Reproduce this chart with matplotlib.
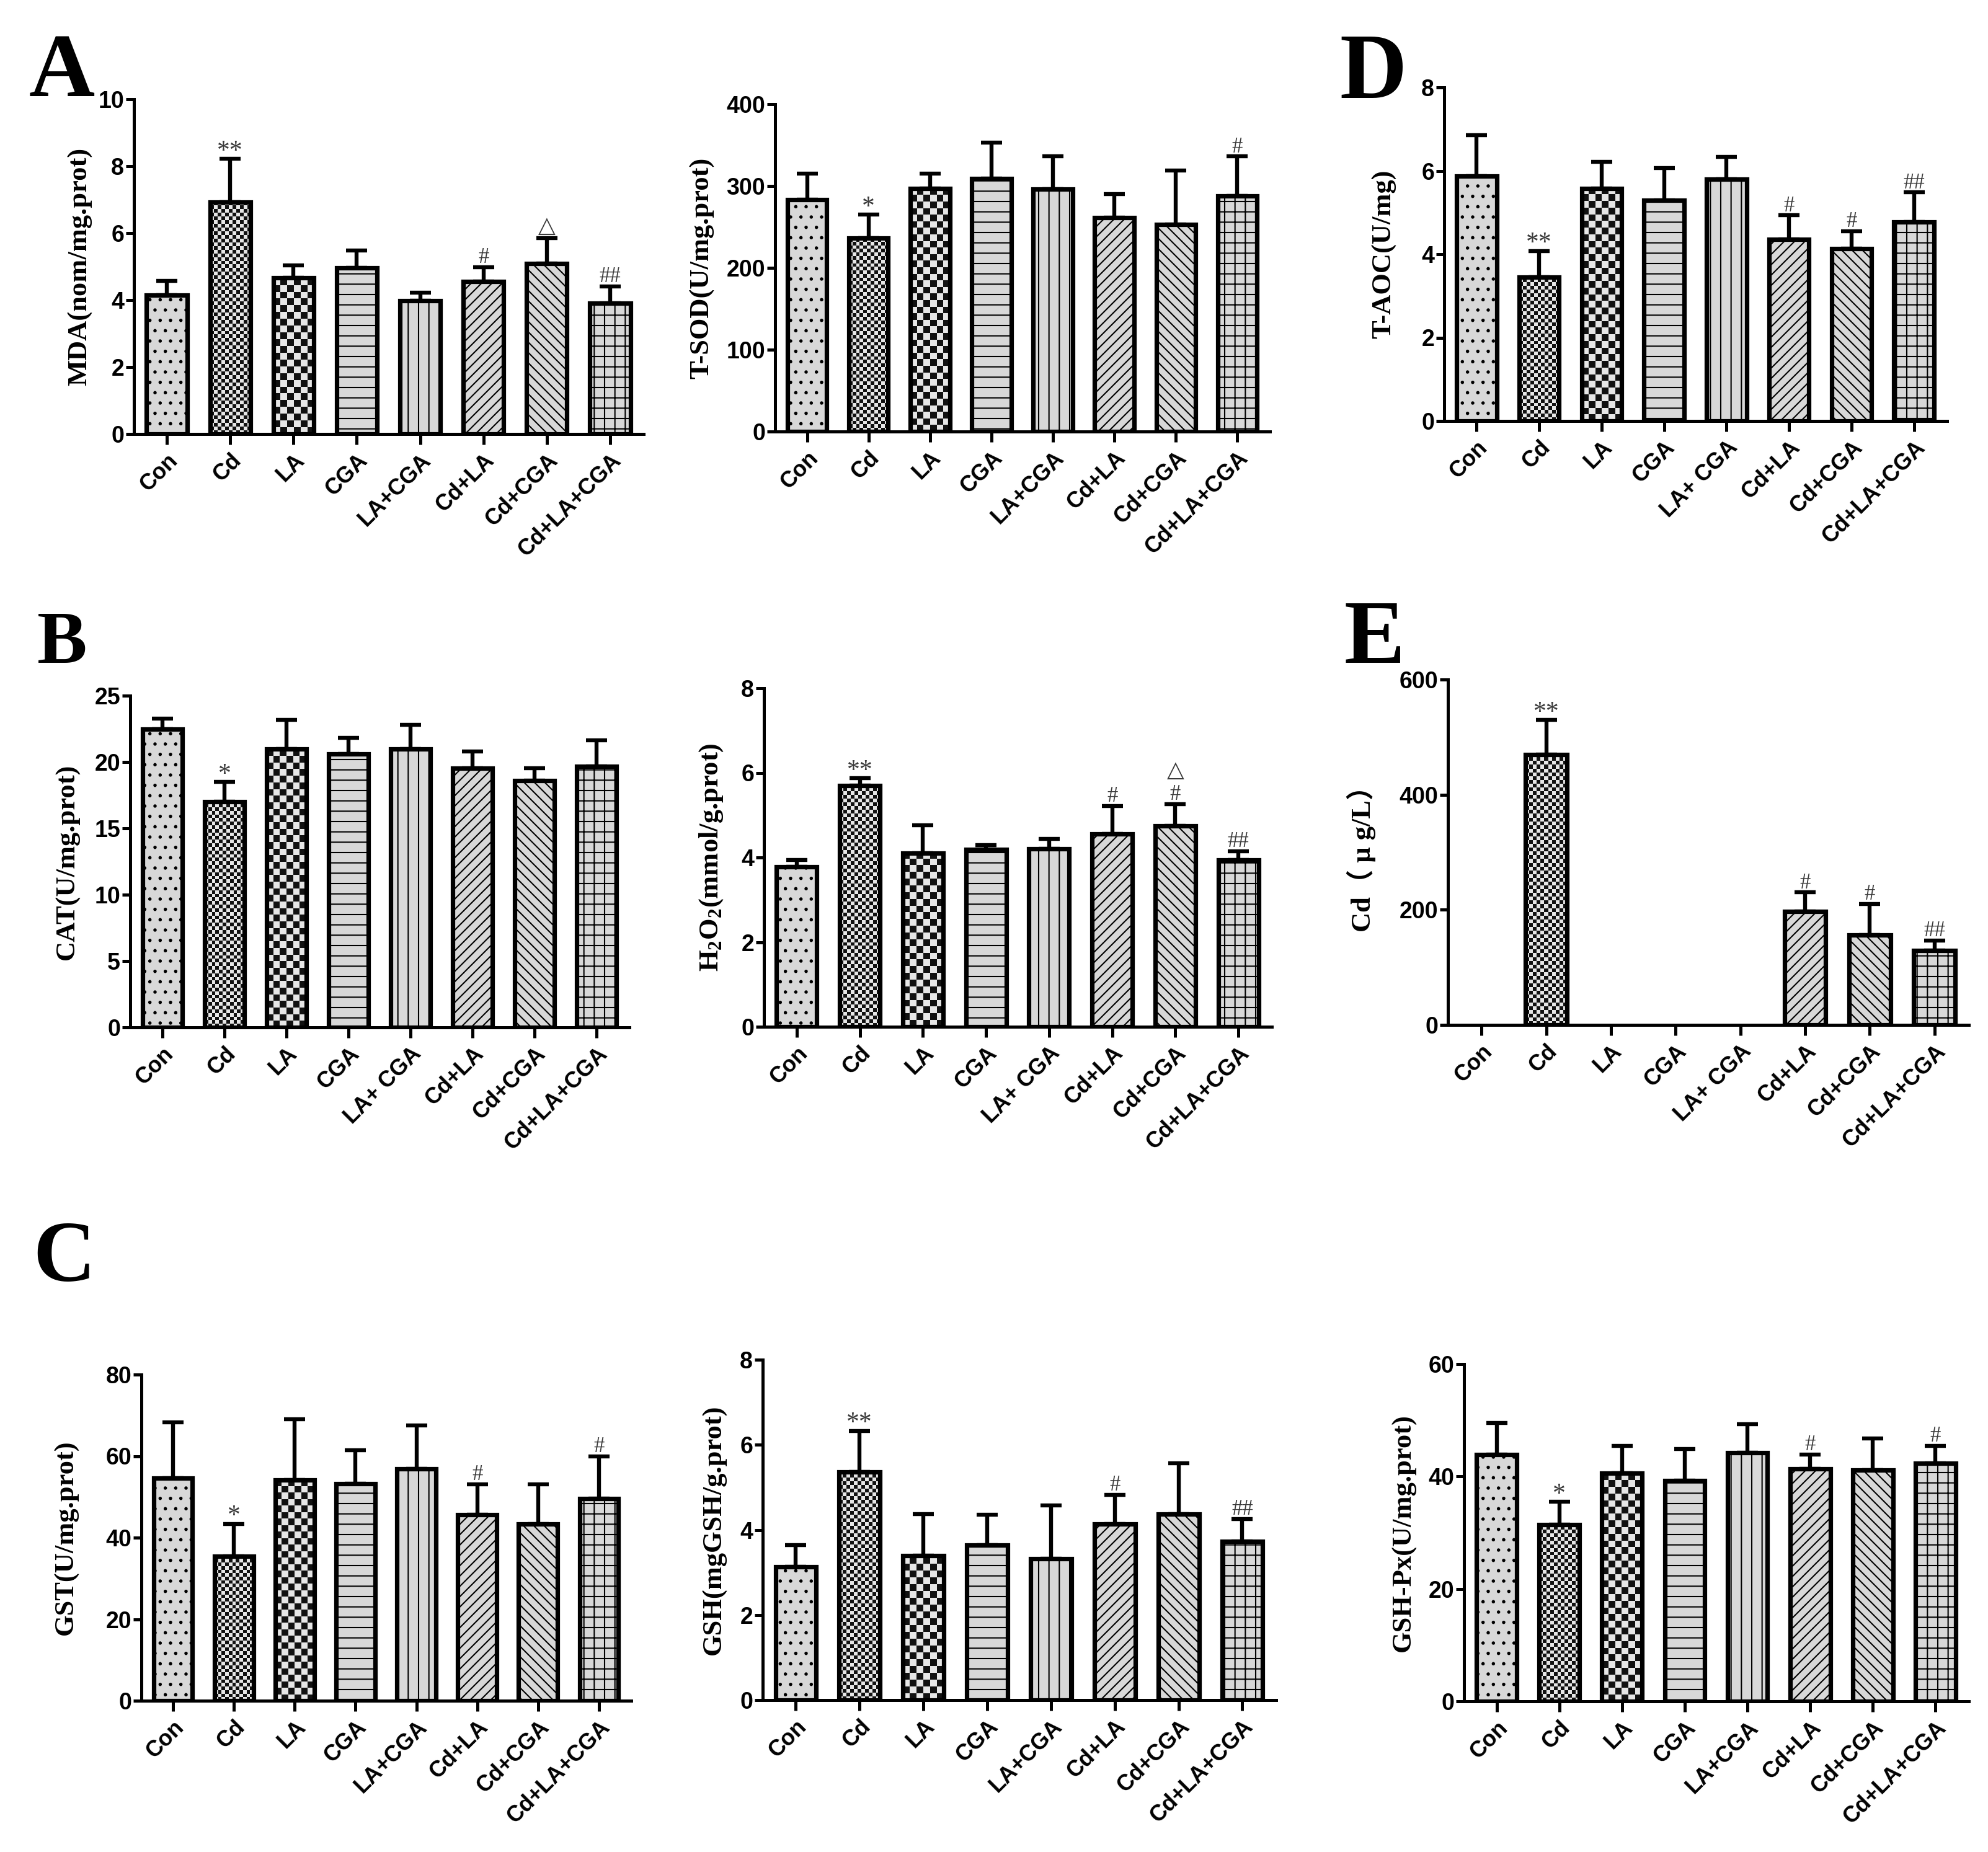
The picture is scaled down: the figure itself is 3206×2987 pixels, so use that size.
import numpy as np
import matplotlib
matplotlib.use("Agg")
import matplotlib.pyplot as plt
from matplotlib.colors import ListedColormap

plt.rcParams['font.family'] = ['Liberation Sans', 'DejaVu Sans']
plt.rcParams['font.weight'] = 'bold'
plt.rcParams['hatch.linewidth'] = 1.5
plt.rcParams['mathtext.fontset'] = 'custom'
plt.rcParams['mathtext.rm'] = 'Liberation Serif:bold'
plt.rcParams['mathtext.bf'] = 'Liberation Serif:bold'
plt.rcParams['mathtext.it'] = 'Liberation Serif:bold'

# group names (two spellings are used in the original panels)
groups = ['Con', 'Cd', 'LA', 'CGA', 'LA+CGA', 'Cd+LA', 'Cd+CGA', 'Cd+LA+CGA']
groups_sp = ['Con', 'Cd', 'LA', 'CGA', 'LA+ CGA', 'Cd+LA', 'Cd+CGA', 'Cd+LA+CGA']

# A - MDA
mda_mean = [4.15, 6.92, 4.67, 4.97, 3.98, 4.56, 5.10, 3.91]
mda_sd = [0.42, 1.30, 0.37, 0.52, 0.25, 0.43, 0.76, 0.50]
mda_sig = ['', '**', '', '', '', '#', '△', '##']

# A - T-SOD
sod_mean = [283, 236, 297, 309, 296, 261, 253, 288]
sod_sd = [32, 29, 18, 44, 40, 29, 66, 48]
sod_sig = ['', '*', '', '', '', '', '', '#']

# D - T-AOC
taoc_mean = [5.87, 3.45, 5.57, 5.29, 5.80, 4.36, 4.14, 4.78]
taoc_sd = [0.98, 0.63, 0.64, 0.77, 0.54, 0.57, 0.41, 0.70]
taoc_sig = ['', '**', '', '', '', '#', '#', '##']

# B - CAT
cat_mean = [22.5, 17.0, 21.0, 20.6, 21.0, 19.55, 18.6, 19.65]
cat_sd = [0.75, 1.5, 2.2, 1.2, 1.8, 1.25, 0.95, 2.0]
cat_sig = ['', '*', '', '', '', '', '', '']

# B - H2O2
h2o2_mean = [3.78, 5.70, 4.10, 4.19, 4.21, 4.55, 4.75, 3.94]
h2o2_sd = [0.16, 0.17, 0.66, 0.10, 0.23, 0.66, 0.51, 0.21]
h2o2_sig = ['', '**', '', '', '', '#', '△\n#', '##']

# E - Cd content
cd_mean = [0, 470, 0, 0, 0, 197, 156, 129]
cd_sd = [0, 60, 0, 0, 0, 33, 54, 18]
cd_sig = ['', '**', '', '', '', '#', '#', '##']

# C - GST
gst_mean = [54.6, 35.4, 54.2, 53.2, 56.9, 45.7, 43.4, 49.6]
gst_sd = [13.7, 8.0, 14.8, 8.3, 10.6, 7.4, 9.7, 10.3]
gst_sig = ['', '*', '', '', '', '#', '', '#']

# C - GSH
gsh_mean = [3.13, 5.36, 3.40, 3.65, 3.32, 4.14, 4.37, 3.73]
gsh_sd = [0.52, 0.97, 0.97, 0.70, 1.26, 0.68, 1.20, 0.52]
gsh_sig = ['', '**', '', '', '', '#', '', '##']

# C - GSH-Px
gpx_mean = [43.9, 31.4, 40.6, 39.3, 44.2, 41.4, 41.1, 42.3]
gpx_sd = [5.6, 4.1, 4.8, 5.6, 5.1, 2.5, 5.7, 3.1]
gpx_sig = ['', '*', '', '', '', '#', '', '#']

W, H = 3206, 2987
fig = plt.figure(figsize=(W / 100, H / 100), dpi=100)

fill = '#d8d8d8'
hatches = ['.', None, None, '-', '|', '//', '\\\\', '+']
checks = {1: 11, 2: 6}   # bar index -> squares across (checkerboard fills)
XMIN, XMAX = -0.52, 7.53
serif = ['Liberation Serif', 'DejaVu Sans']

# data, sd, sig, ylabel, yticks, xlabels, box (left, zero, right, top px), label offset px
panels = [
    (mda_mean, mda_sd, mda_sig, 'MDA(nom/mg.prot)', [0, 2, 4, 6, 8, 10], groups, (216, 700, 1038, 160), 87),
    (sod_mean, sod_sd, sod_sig, 'T-SOD(U/mg.prot)', [0, 100, 200, 300, 400], groups, (1250, 696, 2048, 168), 118),
    (taoc_mean, taoc_sd, taoc_sig, 'T-AOC(U/mg)', [0, 2, 4, 6, 8], groups_sp, (2329, 679, 3140, 141), 97),
    (cat_mean, cat_sd, cat_sig, 'CAT(U/mg.prot)', [0, 5, 10, 15, 20, 25], groups_sp, (210, 1657, 1015, 1122), 101),
    (h2o2_mean, h2o2_sd, h2o2_sig, r'$\mathbf{H_2O_2}$(mmol/g.prot)', [0, 2, 4, 6, 8], groups_sp, (1232, 1656, 2051, 1110), 85),
    (cd_mean, cd_sd, cd_sig, 'Cd（ μ g/L）', [0, 200, 400, 600], groups_sp, (2335, 1653, 3175, 1096), 140),
    (gst_mean, gst_sd, gst_sig, 'GST(U/mg.prot)', [0, 20, 40, 60, 80], groups, (228, 2743, 1018, 2217), 121),
    (gsh_mean, gsh_sd, gsh_sig, 'GSH(mgGSH/g.prot)', [0, 2, 4, 6, 8], groups, (1230, 2742, 2058, 2193), 78),
    (gpx_mean, gpx_sd, gpx_sig, 'GSH-Px(U/mg.prot)', [0, 20, 40, 60], groups, (2361, 2744, 3175, 2200), 97),
]

for mean, sd, sig, ylab, yt, xl, box, yoff in panels:
    l, b, r, t = box
    ax = fig.add_axes([l / W, 1 - b / H, (r - l) / W, (b - t) / H])
    mean = np.asarray(mean, float)
    sd = np.asarray(sd, float)
    x = np.arange(len(mean))
    ymax = yt[-1]

    bars = ax.bar(x, mean, 0.64, color=fill, edgecolor='black', linewidth=0, zorder=2)
    for bar, h in zip(bars, hatches):
        if h:
            bar.set_hatch(h)

    # checkerboard fills, clipped to the bar
    for i, n in checks.items():
        bar = bars[i]
        if bar.get_height() <= 0:
            continue
        sq_px = bar.get_width() / (XMAX - XMIN) * (r - l) / n
        sq_y = sq_px * ymax / (b - t)
        ny = int(np.ceil(bar.get_height() / sq_y))
        board = np.indices((ny, n)).sum(axis=0) % 2
        im = ax.imshow(board, cmap=ListedColormap(['#e6e6e6', '#111111']),
                       extent=(bar.get_x(), bar.get_x() + bar.get_width(), 0, ny * sq_y),
                       origin='lower', interpolation='nearest', aspect='auto', zorder=2.2)
        im.set_clip_path(bar)

    ax.bar(x, mean, 0.64, fill=False, edgecolor='black',
           linewidth=[5.2 if m > 0 else 0 for m in mean], zorder=3)

    ok = mean > 0
    ax.errorbar(x[ok], mean[ok], yerr=[np.zeros(ok.sum()), sd[ok]], fmt='none',
                ecolor='black', elinewidth=4.6, capsize=12, capthick=4.6, zorder=1.9)

    for i, s in enumerate(sig):
        if not s:
            continue
        top = mean[i] + sd[i]
        off = 0
        for part in s.split('\n')[::-1]:
            if '*' in part:
                fs, dy = 30, 1
            elif part == '△':
                fs, dy = 26, 6
            else:
                fs, dy = 25, 5
            ax.annotate(part, (x[i], top), xytext=(0, off + dy), textcoords='offset points',
                        ha='center', va='baseline', fontsize=fs, fontweight='normal',
                        color='#3a3a3a', family=serif, annotation_clip=False)
            off += dy + 21

    ax.set_xlim(XMIN, XMAX)
    ax.set_ylim(0, ymax)
    ax.set_yticks(yt)
    ax.set_xticks(x)
    ax.set_xticklabels(xl, rotation=45, ha='right', rotation_mode='anchor')
    for sp in ['top', 'right']:
        ax.spines[sp].set_visible(False)
    for sp in ['left', 'bottom']:
        ax.spines[sp].set_linewidth(3.6)
    ax.tick_params(axis='y', direction='out', length=9.5, width=3.6, labelsize=27, pad=2)
    ax.tick_params(axis='x', direction='out', length=12, width=3.6, labelsize=26, pad=6)

    fam = ['Liberation Serif', 'Noto Sans CJK SC'] if 'μ' in ylab else serif
    ax.set_ylabel(ylab, fontsize=32, fontweight='bold', family=fam, va='center')
    ax.yaxis.set_label_coords(-yoff / (r - l), 0.5)

# panel letters (x px, baseline px, size)
letters = [('A', 47, 155, 106), ('D', 2160, 158, 108), ('B', 60, 1069, 87),
           ('E', 2167, 1069, 106), ('C', 53, 2066, 100)]
for s, lx, ly, fs in letters:
    fig.text(lx / W, 1 - ly / H, s, fontsize=fs, fontweight='bold',
             family='Liberation Serif', va='baseline', ha='left')

fig.savefig('out.png', dpi=100, facecolor='white')
